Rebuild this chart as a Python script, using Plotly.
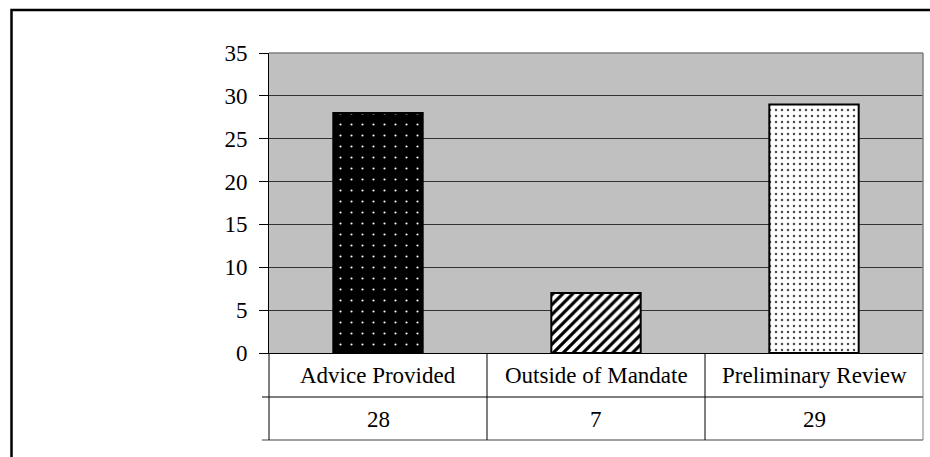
import plotly.graph_objects as go

# Case outcomes
categories = ["Advice Provided", "Outside of Mandate", "Preliminary Review"]
counts = [28, 7, 29]
y_ticks = [0, 5, 10, 15, 20, 25, 30, 35]

# Fill styles per bar
pattern_shapes = [".", "/", "."]
pattern_bg = ["#000000", "#FFFFFF", "#FFFFFF"]
pattern_fg = ["#FFFFFF", "#000000", "#4A4A4A"]
pattern_size = [11, 7, 6]
pattern_solidity = [0.03, 0.45, 0.14]

FONT = "Liberation Serif"
W, H = 930, 457
ML, MR, MT, MB = 269, 7, 53, 104
PW, PH = W - ML - MR, H - MT - MB


def px_x(px):
    return (px - ML) / PW


def px_y(py):
    return (H - MB - py) / PH


fig = go.Figure()
for i, (cat, val) in enumerate(zip(categories, counts)):
    fig.add_trace(
        go.Bar(
            x=[cat],
            y=[val],
            marker=dict(
                color=pattern_bg[i],
                line=dict(color="black", width=2),
                pattern=dict(
                    shape=pattern_shapes[i],
                    bgcolor=pattern_bg[i],
                    fgcolor=pattern_fg[i],
                    fgopacity=1,
                    size=pattern_size[i],
                    solidity=pattern_solidity[i],
                    fillmode="replace",
                ),
            ),
            hoverinfo="skip",
            showlegend=False,
        )
    )

shapes = []
# plot frame: grey top and right edges
shapes.append(dict(type="line", xref="paper", yref="paper", x0=0, x1=1, y0=1, y1=1,
                   line=dict(color="#808080", width=1.5)))
shapes.append(dict(type="line", xref="paper", yref="paper", x0=1, x1=1, y0=0, y1=1,
                   line=dict(color="#808080", width=1.5)))

# data table under the axis
row1_bottom = px_y(397)
row2_bottom = px_y(440)
shapes.append(dict(type="line", xref="paper", yref="paper", x0=px_x(262), x1=1,
                   y0=row1_bottom, y1=row1_bottom, line=dict(color="black", width=1)))
shapes.append(dict(type="line", xref="paper", yref="paper", x0=px_x(262), x1=1,
                   y0=row2_bottom, y1=row2_bottom, line=dict(color="#808080", width=1.5)))
n = len(categories)
for i in range(n + 1):
    colour = "#808080" if i == n else "black"
    shapes.append(dict(type="line", xref="paper", yref="paper", x0=i / n, x1=i / n,
                       y0=0, y1=row2_bottom, line=dict(color=colour, width=1)))

# outer chart border (left and top)
bx, by = px_x(11.5), px_y(10)
shapes.append(dict(type="path", xref="paper", yref="paper",
                   path=f"M {bx},{px_y(480)} L {bx},{by} L {px_x(945)},{by}",
                   line=dict(color="black", width=2.5)))

annotations = []
for cat, val in zip(categories, counts):
    annotations.append(dict(x=cat, xref="x", y=px_y(375), yref="paper", text=cat,
                            showarrow=False, font=dict(family=FONT, size=23, color="black"),
                            xanchor="center", yanchor="middle"))
    annotations.append(dict(x=cat, xref="x", y=px_y(419), yref="paper", text=str(val),
                            showarrow=False, font=dict(family=FONT, size=23, color="black"),
                            xanchor="center", yanchor="middle"))

fig.update_layout(
    width=W,
    height=H,
    margin=dict(l=ML, r=MR, t=MT, b=MB, pad=0),
    paper_bgcolor="white",
    plot_bgcolor="#C0C0C0",
    barmode="overlay",
    bargap=0.59,
    font=dict(family=FONT, size=23, color="black"),
    shapes=shapes,
    annotations=annotations,
    xaxis=dict(
        type="category",
        categoryorder="array",
        categoryarray=categories,
        range=[-0.5, 2.5],
        showticklabels=False,
        ticks="",
        showgrid=False,
        zeroline=False,
        showline=True,
        linecolor="black",
        linewidth=1,
        fixedrange=True,
    ),
    yaxis=dict(
        range=[0, 35],
        tickvals=y_ticks,
        ticks="outside",
        ticklen=9,
        tickwidth=1,
        tickcolor="black",
        ticklabelstandoff=7,
        showline=True,
        linecolor="black",
        linewidth=1,
        showgrid=True,
        gridcolor="#333333",
        gridwidth=1,
        zeroline=False,
        tickfont=dict(family=FONT, size=23, color="black"),
        fixedrange=True,
    ),
)

fig.write_html("out.html")
